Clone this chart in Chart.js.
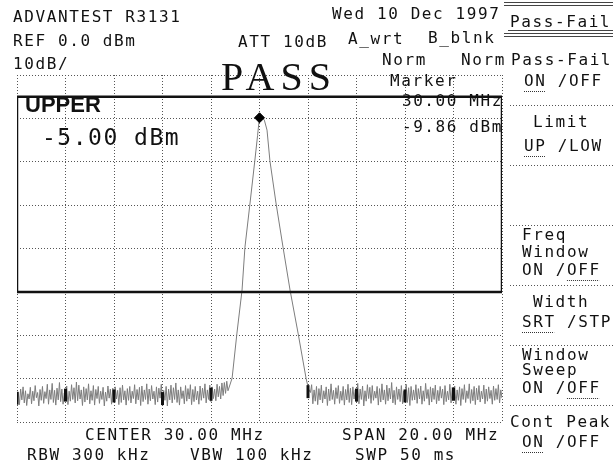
<!DOCTYPE html>
<html>
<head>
<meta charset="utf-8">
<script src="https://cdn.jsdelivr.net/npm/chart.js@4.4.1/dist/chart.umd.min.js"></script>
<style>
  html, body { margin: 0; padding: 0; background: #fff; }
  #box { position: relative; width: 613px; height: 467px; }
</style>
</head>
<body>
<div id="box"><canvas id="screen" width="613" height="467"></canvas></div>
<script>
// sweep: 20 - 40 MHz, ref 0 dBm, 10 dB/div
const freqTicks = [20, 22, 24, 26, 28, 30, 32, 34, 36, 38, 40];
const levelTicks = [0, -10, -20, -30, -40, -50, -60, -70, -80];

// noise floor below the carrier
const noiseLowFreq = [
  20.00, 20.05, 20.10, 20.15, 20.20, 20.25, 20.30, 20.35, 20.40, 20.45,
  20.50, 20.55, 20.60, 20.65, 20.70, 20.75, 20.80, 20.85, 20.90, 20.95,
  21.00, 21.05, 21.10, 21.15, 21.20, 21.25, 21.30, 21.35, 21.40, 21.45,
  21.50, 21.55, 21.60, 21.65, 21.70, 21.75, 21.80, 21.85, 21.90, 21.95,
  22.00, 22.05, 22.10, 22.15, 22.20, 22.25, 22.30, 22.35, 22.40, 22.45,
  22.50, 22.55, 22.60, 22.65, 22.70, 22.75, 22.80, 22.85, 22.90, 22.95,
  23.00, 23.05, 23.10, 23.15, 23.20, 23.25, 23.30, 23.35, 23.40, 23.45,
  23.50, 23.55, 23.60, 23.65, 23.70, 23.75, 23.80, 23.85, 23.90, 23.95,
  24.00, 24.05, 24.10, 24.15, 24.20, 24.25, 24.30, 24.35, 24.40, 24.45,
  24.50, 24.55, 24.60, 24.65, 24.70, 24.75, 24.80, 24.85, 24.90, 24.95,
  25.00, 25.05, 25.10, 25.15, 25.20, 25.25, 25.30, 25.35, 25.40, 25.45,
  25.50, 25.55, 25.60, 25.65, 25.70, 25.75, 25.80, 25.85, 25.90, 25.95,
  26.00, 26.05, 26.10, 26.15, 26.20, 26.25, 26.30, 26.35, 26.40, 26.45,
  26.50, 26.55, 26.60, 26.65, 26.70, 26.75, 26.80, 26.85, 26.90, 26.95,
  27.00, 27.05, 27.10, 27.15, 27.20, 27.25, 27.30, 27.35, 27.40, 27.45,
  27.50, 27.55, 27.60, 27.65, 27.70, 27.75, 27.80, 27.85, 27.90, 27.95,
  28.00, 28.05, 28.10, 28.15, 28.20, 28.25, 28.30, 28.35, 28.40, 28.45,
  28.50, 28.55, 28.60, 28.65, 28.70];
const noiseLowDbm = [
  -75.4, -73.1, -76.0, -72.4, -74.9, -71.9, -75.6, -72.8, -76.2, -73.5,
  -74.7, -72.0, -75.8, -72.9, -75.1, -71.6, -74.4, -73.2, -76.3, -72.5,
  -75.0, -71.8, -75.7, -73.0, -74.6, -71.3, -75.9, -72.6, -74.8, -71.1,
  -75.5, -72.7, -76.1, -72.2, -74.9, -70.9, -75.3, -72.4, -75.9, -73.3,
  -74.5, -71.7, -76.0, -72.9, -75.2, -71.4, -74.8, -72.1, -75.6, -70.8,
  -75.1, -71.5, -74.7, -72.6, -76.2, -71.9, -75.4, -72.3, -74.9, -71.2,
  -75.8, -72.8, -75.0, -71.6, -76.1, -72.5, -74.6, -71.8, -75.7, -72.9,
  -74.8, -72.0, -76.3, -73.1, -75.2, -71.7, -74.5, -72.4, -75.9, -72.2,
  -75.3, -71.9, -74.7, -72.7, -76.0, -72.1, -75.5, -71.5, -74.9, -72.8,
  -76.1, -72.3, -75.0, -71.8, -75.6, -72.9, -74.6, -71.4, -75.8, -72.5,
  -74.9, -72.0, -76.2, -71.7, -75.3, -72.6, -74.8, -71.2, -75.9, -72.4,
  -75.1, -71.6, -74.7, -72.9, -76.0, -71.9, -75.4, -72.2, -74.5, -71.3,
  -75.7, -72.7, -75.0, -71.8, -76.3, -72.4, -74.9, -71.5, -75.6, -72.1,
  -74.8, -71.0, -75.5, -72.6, -76.1, -71.9, -74.6, -72.8, -75.8, -71.6,
  -75.2, -72.3, -74.7, -71.4, -76.0, -72.5, -75.3, -71.8, -74.9, -72.9,
  -75.9, -71.7, -75.0, -72.2, -74.5, -71.2, -75.6, -72.6, -74.8, -71.5,
  -75.3, -71.9, -74.6, -72.4, -75.1, -71.3, -74.2, -71.8, -74.7, -71.0,
  -73.9, -70.9, -73.4, -70.6, -72.8];

// carrier skirts
const peakFreq = [28.87, 29.07, 29.28, 29.40, 29.61, 29.81, 29.92, 30.00, 30.10, 30.20,
  30.31, 30.43, 30.68, 30.97, 31.26, 31.59, 31.92, 32.02];
const peakDbm = [-69.9, -59.5, -49.6, -39.7, -29.5, -19.6, -14.0, -9.6, -9.8, -10.4,
  -12.7, -19.8, -29.5, -39.7, -49.6, -59.5, -69.9, -72.4];

// noise floor above the carrier
const noiseHighFreq = [
  32.10, 32.15, 32.20, 32.25, 32.30, 32.35, 32.40, 32.45, 32.50, 32.55,
  32.60, 32.65, 32.70, 32.75, 32.80, 32.85, 32.90, 32.95, 33.00, 33.05,
  33.10, 33.15, 33.20, 33.25, 33.30, 33.35, 33.40, 33.45, 33.50, 33.55,
  33.60, 33.65, 33.70, 33.75, 33.80, 33.85, 33.90, 33.95, 34.00, 34.05,
  34.10, 34.15, 34.20, 34.25, 34.30, 34.35, 34.40, 34.45, 34.50, 34.55,
  34.60, 34.65, 34.70, 34.75, 34.80, 34.85, 34.90, 34.95, 35.00, 35.05,
  35.10, 35.15, 35.20, 35.25, 35.30, 35.35, 35.40, 35.45, 35.50, 35.55,
  35.60, 35.65, 35.70, 35.75, 35.80, 35.85, 35.90, 35.95, 36.00, 36.05,
  36.10, 36.15, 36.20, 36.25, 36.30, 36.35, 36.40, 36.45, 36.50, 36.55,
  36.60, 36.65, 36.70, 36.75, 36.80, 36.85, 36.90, 36.95, 37.00, 37.05,
  37.10, 37.15, 37.20, 37.25, 37.30, 37.35, 37.40, 37.45, 37.50, 37.55,
  37.60, 37.65, 37.70, 37.75, 37.80, 37.85, 37.90, 37.95, 38.00, 38.05,
  38.10, 38.15, 38.20, 38.25, 38.30, 38.35, 38.40, 38.45, 38.50, 38.55,
  38.60, 38.65, 38.70, 38.75, 38.80, 38.85, 38.90, 38.95, 39.00, 39.05,
  39.10, 39.15, 39.20, 39.25, 39.30, 39.35, 39.40, 39.45, 39.50, 39.55,
  39.60, 39.65, 39.70, 39.75, 39.80, 39.85, 39.90, 39.95, 40.00];
const noiseHighDbm = [
  -73.2, -71.4, -75.8, -72.6, -75.2, -71.8, -76.0, -72.3, -74.9, -71.5,
  -75.6, -72.8, -74.7, -71.9, -76.2, -72.4, -75.1, -71.2, -74.8, -72.7,
  -75.9, -72.1, -74.6, -71.6, -75.7, -72.9, -75.0, -71.8, -76.1, -72.5,
  -74.9, -71.3, -75.5, -72.2, -76.0, -71.9, -74.7, -72.6, -75.3, -71.1,
  -75.8, -72.4, -74.8, -71.7, -76.3, -72.8, -75.2, -71.4, -74.6, -72.0,
  -75.7, -71.6, -75.0, -72.9, -74.5, -71.8, -76.1, -72.3, -75.4, -71.2,
  -74.9, -72.6, -75.9, -71.5, -75.1, -72.2, -74.7, -70.9, -75.6, -72.7,
  -76.0, -71.9, -74.8, -72.4, -75.3, -71.6, -75.8, -72.9, -74.6, -71.3,
  -75.5, -72.1, -76.2, -71.8, -75.0, -72.6, -74.9, -71.4, -75.7, -72.3,
  -74.7, -71.7, -75.9, -72.8, -75.2, -71.1, -74.6, -72.5, -76.1, -71.9,
  -75.4, -72.2, -74.8, -71.5, -75.8, -72.7, -75.1, -71.8, -74.5, -72.4,
  -76.0, -71.6, -75.3, -72.9, -74.9, -71.3, -75.6, -72.0, -74.7, -71.7,
  -75.9, -72.6, -75.0, -71.9, -76.2, -72.3, -74.8, -71.4, -75.5, -72.8,
  -74.6, -71.2, -75.7, -72.5, -75.1, -71.8, -76.0, -72.2, -74.9, -71.6,
  -75.4, -72.9, -74.7, -71.5, -75.8, -72.4, -75.2, -71.9, -74.6, -72.7,
  -75.9, -71.7, -75.0, -72.3, -74.8, -71.4, -75.6, -72.6, -74.5];

// pass/fail window: upper limit -5 dBm, lower edge -50 dBm
const windowFreq = [20, 20, 40, 40, 20];
const windowDbm = [-50, -5, -5, -50, -50];

// dark spots where the noise crosses the grid
const crossFreq = [20, 22, 24, 26, 28, 32, 34, 36, 38];
const crossDbm = [-74.5, -73.8, -74.0, -74.6, -73.6, -73.0, -73.8, -74.0, -73.6];

const markerFreq = [30.00];
const markerDbm = [-9.86];

function pts(xs, ys) {
    return xs.map((x, i) => ({ x: x, y: ys[i] }));
}

const traceFreq = noiseLowFreq.concat(peakFreq, noiseHighFreq);
const traceDbm = noiseLowDbm.concat(peakDbm, noiseHighDbm);

const MONO = '"DejaVu Sans Mono", monospace';

function txt(ctx, s, x, y, ul) {
    ctx.fillText(s, x, y);
    if (ul) {
        const a = ctx.measureText(s.slice(0, ul[0])).width;
        const b = ctx.measureText(s.slice(0, ul[1])).width;
        ctx.save();
        ctx.strokeStyle = '#333';
        ctx.lineWidth = 1;
        ctx.setLineDash([1, 1]);
        ctx.beginPath();
        ctx.moveTo(x + a, y + 9.5);
        ctx.lineTo(x + b - 1.5, y + 9.5);
        ctx.stroke();
        ctx.restore();
    }
}

const screenText = {
    id: 'screenText',
    afterDraw(chart) {
        const ctx = chart.ctx;
        ctx.save();
        ctx.fillStyle = '#111';
        ctx.textBaseline = 'middle';
        ctx.textAlign = 'left';
        ctx.font = '16px ' + MONO;
        ctx.letterSpacing = '1.6px';

        txt(ctx, 'ADVANTEST R3131', 13, 18);
        txt(ctx, 'Wed 10 Dec 1997', 332, 15);
        txt(ctx, 'REF 0.0 dBm', 13, 42);
        txt(ctx, 'ATT 10dB', 238, 43);
        txt(ctx, 'A_wrt', 348, 40);
        txt(ctx, 'B_blnk', 428, 39);
        txt(ctx, '10dB/', 13, 65);
        txt(ctx, 'Norm', 382, 61);
        txt(ctx, 'Norm', 461, 61);
        txt(ctx, 'Marker', 390, 82);
        ctx.textAlign = 'right';
        txt(ctx, '30.00 MHz', 503, 102);
        txt(ctx, '-9.86 dBm', 503, 128);
        ctx.textAlign = 'left';
        txt(ctx, 'CENTER 30.00 MHz', 85, 436);
        txt(ctx, 'SPAN 20.00 MHz', 342, 436);
        txt(ctx, 'RBW 300 kHz', 27, 456);
        txt(ctx, 'VBW 100 kHz', 190, 456);
        txt(ctx, 'SWP 50 ms', 355, 456);

        // soft keys
        txt(ctx, 'Pass-Fail', 510, 23);
        txt(ctx, 'Pass-Fail', 511, 61);
        txt(ctx, 'ON /OFF', 524, 82, [0, 2]);
        txt(ctx, 'Limit', 533, 123);
        txt(ctx, 'UP /LOW', 524, 147, [0, 2]);
        txt(ctx, 'Freq', 522, 236);
        txt(ctx, 'Window', 522, 253);
        txt(ctx, 'ON /OFF', 522, 271, [4, 7]);
        txt(ctx, 'Width', 533, 303);
        txt(ctx, 'SRT /STP', 522, 323, [0, 3]);
        txt(ctx, 'Window', 522, 356);
        txt(ctx, 'Sweep', 522, 371);
        txt(ctx, 'ON /OFF', 522, 389, [4, 7]);
        txt(ctx, 'Cont Peak', 510, 423);
        txt(ctx, 'ON /OFF', 522, 443, [0, 2]);

        // limit readout
        ctx.letterSpacing = '0px';
        ctx.font = 'bold 22px "Liberation Sans", sans-serif';
        txt(ctx, 'UPPER', 25, 106);
        ctx.font = '23px ' + MONO;
        ctx.letterSpacing = '1.5px';
        txt(ctx, '-5.00 dBm', 42, 139);

        // verdict
        ctx.font = '40px "Liberation Serif", serif';
        ctx.letterSpacing = '6px';
        ctx.textBaseline = 'alphabetic';
        ctx.fillText('PASS', 221, 90);

        // soft key frames
        ctx.letterSpacing = '0px';
        ctx.strokeStyle = '#444';
        ctx.lineWidth = 1;
        ctx.beginPath();
        [2.5, 5.5, 33.5, 36.5].forEach(y => { ctx.moveTo(504, y); ctx.lineTo(613, y); });
        ctx.moveTo(508, 30.5); ctx.lineTo(613, 30.5);
        ctx.stroke();
        ctx.setLineDash([1, 2]);
        ctx.strokeStyle = '#555';
        ctx.beginPath();
        [105, 165, 225, 285, 345, 405].forEach(y => { ctx.moveTo(510, y + 0.5); ctx.lineTo(613, y + 0.5); });
        ctx.stroke();
        ctx.restore();
    }
};

const gridStyle = {
    color: '#555',
    lineWidth: 1,
    drawTicks: false
};

new Chart(document.getElementById('screen'), {
    type: 'scatter',
    data: {
        datasets: [
            {
                label: 'marker',
                data: pts(markerFreq, markerDbm),
                pointStyle: 'rectRot',
                pointRadius: 5,
                backgroundColor: '#000',
                borderColor: '#000',
                order: 0
            },
            {
                label: 'window',
                data: pts(windowFreq, windowDbm),
                showLine: true,
                borderColor: '#111',
                borderWidth: 2.5,
                pointRadius: 0,
                order: 1
            },
            {
                label: 'crossings',
                data: pts(crossFreq, crossDbm),
                pointStyle: 'line',
                rotation: 90,
                pointRadius: 6.5,
                borderWidth: 3,
                borderColor: '#111',
                order: 2
            },
            {
                label: 'trace A',
                data: pts(traceFreq, traceDbm),
                showLine: true,
                borderColor: '#7d7d7d',
                borderWidth: 1,
                pointRadius: 0,
                tension: 0,
                order: 3
            }
        ]
    },
    options: {
        responsive: false,
        animation: false,
        layout: { padding: { left: 17, top: 75, right: 111, bottom: 45 } },
        plugins: { legend: { display: false }, tooltip: { enabled: false } },
        scales: {
            x: {
                type: 'linear',
                min: 20,
                max: 40,
                afterBuildTicks: s => { s.ticks = freqTicks.map(v => ({ value: v })); },
                afterFit: s => { s.height = 0; },
                ticks: { display: false },
                border: { display: false, dash: [1, 2] },
                grid: Object.assign({}, gridStyle)
            },
            y: {
                type: 'linear',
                min: -80,
                max: 0,
                afterBuildTicks: s => { s.ticks = levelTicks.map(v => ({ value: v })); },
                afterFit: s => { s.width = 0; },
                ticks: { display: false },
                border: { display: false, dash: [1, 2] },
                grid: Object.assign({}, gridStyle)
            }
        }
    },
    plugins: [screenText]
});
</script>
</body>
</html>
